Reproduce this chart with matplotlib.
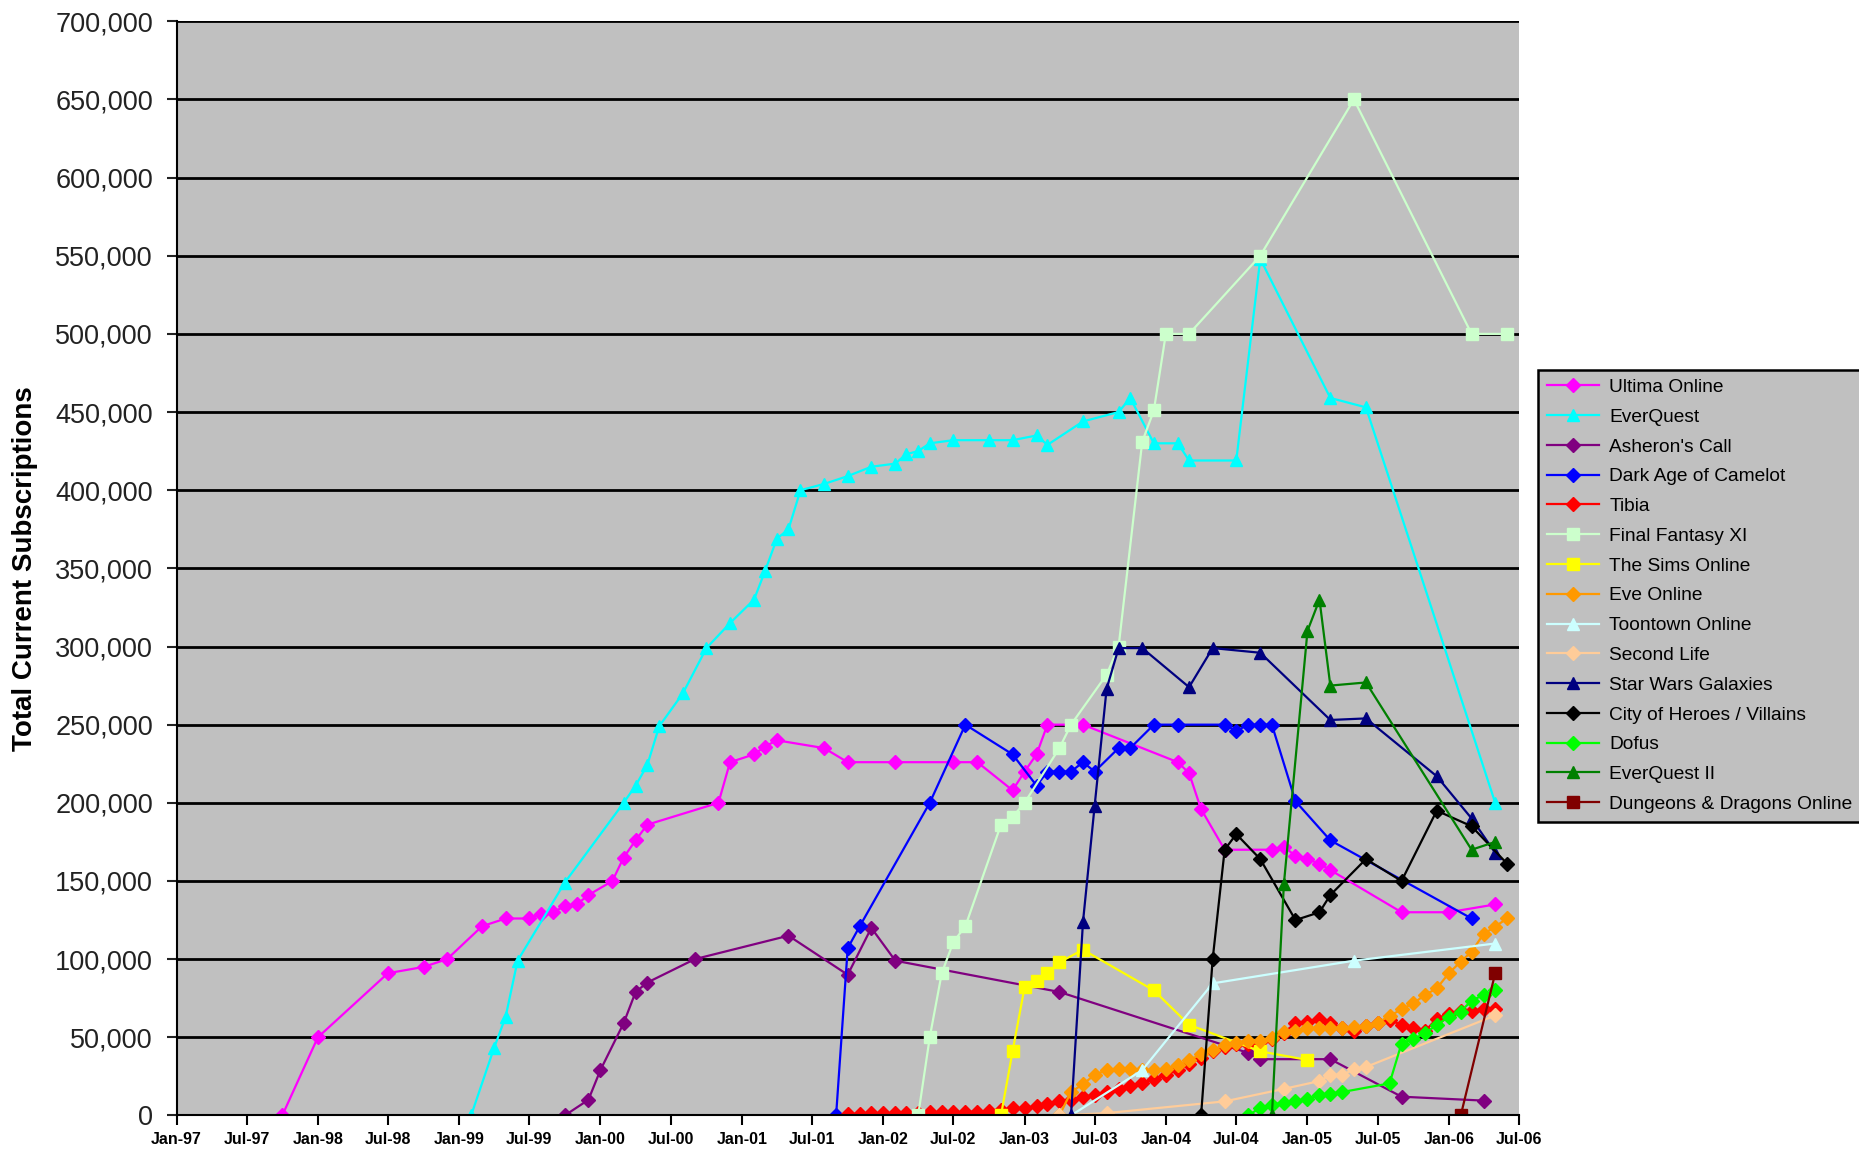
import matplotlib
matplotlib.use('Agg')
import matplotlib.pyplot as plt
import matplotlib.dates as mdates
from matplotlib.ticker import FuncFormatter
import pandas as pd

# ---------------------------------------------------------------
# Data: (month, subscriptions)
# ---------------------------------------------------------------
uo_dates = ['1997-10', '1998-01', '1998-07', '1998-10', '1998-12', '1999-03', '1999-05', '1999-07',
            '1999-08', '1999-09', '1999-10', '1999-11', '1999-12', '2000-02', '2000-03', '2000-04',
            '2000-05', '2000-11', '2000-12', '2001-02', '2001-03', '2001-04', '2001-08', '2001-10',
            '2002-02', '2002-07', '2002-09', '2002-12', '2003-01', '2003-02', '2003-03', '2003-06',
            '2004-02', '2004-03', '2004-04', '2004-06', '2004-10', '2004-11', '2004-12', '2005-01',
            '2005-02', '2005-03', '2005-09', '2006-01', '2006-05']
uo_values = [0, 50000, 91000, 95000, 100000, 121000, 126000, 126000,
             129000, 130000, 134000, 135000, 141000, 150000, 165000, 176000,
             186000, 200000, 226000, 231000, 236000, 240000, 235000, 226000,
             226000, 226000, 226000, 208000, 220000, 231000, 250000, 250000,
             226000, 219000, 196000, 170000, 170000, 172000, 166000, 164000,
             161000, 157000, 130000, 130000, 135000]

eq_dates = ['1999-02', '1999-04', '1999-05', '1999-06', '1999-10', '2000-03', '2000-04', '2000-05',
            '2000-06', '2000-08', '2000-10', '2000-12', '2001-02', '2001-03', '2001-04', '2001-05',
            '2001-06', '2001-08', '2001-10', '2001-12', '2002-02', '2002-03', '2002-04', '2002-05',
            '2002-07', '2002-10', '2002-12', '2003-02', '2003-03', '2003-06', '2003-09', '2003-10',
            '2003-12', '2004-02', '2004-03', '2004-07', '2004-09', '2005-03', '2005-06', '2006-05']
eq_values = [0, 43000, 63000, 99000, 149000, 200000, 211000, 224000,
             249000, 270000, 299000, 315000, 330000, 348000, 369000, 375000,
             400000, 404000, 409000, 415000, 417000, 423000, 425000, 430000,
             432000, 432000, 432000, 435000, 429000, 444000, 450000, 459000,
             430000, 430000, 419000, 419000, 548000, 459000, 453000, 200000]

ac_dates = ['1999-10', '1999-12', '2000-01', '2000-03', '2000-04', '2000-05', '2000-09', '2001-05',
            '2001-10', '2001-12', '2002-02', '2003-04', '2004-08', '2004-09', '2005-03', '2005-09',
            '2006-04']
ac_values = [0, 10000, 29000, 59000, 79000, 85000, 100000, 115000,
             90000, 120000, 99000, 79000, 40000, 36000, 36000, 12000,
             9500]

daoc_dates = ['2001-09', '2001-10', '2001-11', '2002-05', '2002-08', '2002-12', '2003-02', '2003-03',
              '2003-04', '2003-05', '2003-06', '2003-07', '2003-09', '2003-10', '2003-12', '2004-02',
              '2004-06', '2004-07', '2004-08', '2004-09', '2004-10', '2004-12', '2005-03', '2006-03']
daoc_values = [0, 107000, 121000, 200000, 250000, 231000, 211000, 220000,
               220000, 220000, 226000, 220000, 235000, 235000, 250000, 250000,
               250000, 246000, 250000, 250000, 250000, 201000, 176000, 126000]

# Tibia is monthly from Oct-01
tibia_start = '2001-10'
tibia_values = [1000, 1000, 1500, 1500, 1500, 1500, 1500, 2000, 2000, 2000, 2000, 2500,
                3000, 3500, 4500, 4500, 6000, 7500, 9000, 10000, 12000, 13000, 15000, 17000,
                19000, 21000, 23000, 26000, 29000, 33000, 37000, 41000, 44000, 46000, 46000, 47000,
                49000, 53000, 59000, 60000, 61500, 59000, 56000, 54000, 57000, 59000, 61000, 58000,
                56000, 54000, 62000, 65000, 67000, 67000, 68000, 68000]

ffxi_dates = ['2002-04', '2002-05', '2002-06', '2002-07', '2002-08', '2002-11', '2002-12', '2003-01',
              '2003-04', '2003-05', '2003-08', '2003-09', '2003-11', '2003-12', '2004-01', '2004-03',
              '2004-09', '2005-05', '2006-03', '2006-06']
ffxi_values = [0, 50000, 91000, 111000, 121000, 186000, 191000, 200000,
               235000, 250000, 282000, 300000, 431000, 451000, 500000, 500000,
               550000, 650000, 500000, 500000]

sims_dates = ['2002-11', '2002-12', '2003-01', '2003-02', '2003-03', '2003-04', '2003-06', '2003-12',
              '2004-03', '2004-09', '2005-01']
sims_values = [0, 41000, 82000, 86000, 91000, 98000, 106000, 80000,
               58000, 41000, 35500]

# Eve Online is monthly from Apr-03
eve_start = '2003-04'
eve_values = [0, 15000, 20000, 26000, 29000, 30000, 30000, 29000, 29000, 30000, 32000, 35500,
              39000, 42000, 45000, 46500, 47800, 47600, 49300, 53500, 54000, 55700, 55700, 55700,
              55700, 56800, 57200, 59300, 63600, 67900, 71700, 77100, 81300, 90900, 98400, 104800,
              116100, 120800, 126100]

toon_dates = ['2003-05', '2003-11', '2004-05', '2005-05', '2006-05']
toon_values = [0, 29000, 84500, 99000, 110000]

sl_dates = ['2003-04', '2003-08', '2004-06', '2004-11', '2005-02', '2005-03', '2005-04', '2005-05',
            '2005-06', '2006-05']
sl_values = [0, 1500, 9000, 17000, 22000, 26000, 26000, 29500,
             31000, 64000]

swg_dates = ['2003-05', '2003-06', '2003-07', '2003-08', '2003-09', '2003-11', '2004-03', '2004-05',
             '2004-09', '2005-03', '2005-06', '2005-12', '2006-03', '2006-05']
swg_values = [0, 124000, 198000, 273000, 299000, 299000, 274000, 299000,
              296000, 253000, 254000, 217000, 190000, 168000]

coh_dates = ['2004-04', '2004-05', '2004-06', '2004-07', '2004-09', '2004-12', '2005-02', '2005-03',
             '2005-06', '2005-09', '2005-12', '2006-03', '2006-06']
coh_values = [0, 100000, 170000, 180000, 164000, 125000, 130000, 141000,
              164000, 150000, 195000, 185000, 161000]

dofus_dates = ['2004-08', '2004-09', '2004-10', '2004-11', '2004-12', '2005-01', '2005-02', '2005-03',
               '2005-04', '2005-08', '2005-09', '2005-10', '2005-11', '2005-12', '2006-01', '2006-02',
               '2006-03', '2006-04', '2006-05']
dofus_values = [0, 5000, 7000, 8000, 9000, 10500, 13000, 14000,
                15000, 20500, 46000, 49000, 52500, 58000, 63000, 66500,
                73500, 77000, 80000]

eq2_dates = ['2004-10', '2004-11', '2005-01', '2005-02', '2005-03', '2005-06', '2006-03', '2006-05']
eq2_values = [0, 148000, 310000, 330000, 275000, 277000, 170000, 175000]

ddo_dates = ['2006-02', '2006-05']
ddo_values = [0, 91000]

names = ['Ultima Online', 'EverQuest', "Asheron's Call", 'Dark Age of Camelot', 'Tibia',
         'Final Fantasy XI', 'The Sims Online', 'Eve Online', 'Toontown Online', 'Second Life',
         'Star Wars Galaxies', 'City of Heroes / Villains', 'Dofus', 'EverQuest II',
         'Dungeons & Dragons Online']

tick_dates = pd.date_range('1997-01-01', '2006-07-01', freq='6MS')

# ---------------------------------------------------------------
# Build series (styles kept apart from the data)
# ---------------------------------------------------------------
def monthly(start, vals):
    return pd.date_range(start, periods=len(vals), freq='MS')

series = [
    (pd.to_datetime(uo_dates), uo_values),
    (pd.to_datetime(eq_dates), eq_values),
    (pd.to_datetime(ac_dates), ac_values),
    (pd.to_datetime(daoc_dates), daoc_values),
    (monthly(tibia_start, tibia_values), tibia_values),
    (pd.to_datetime(ffxi_dates), ffxi_values),
    (pd.to_datetime(sims_dates), sims_values),
    (monthly(eve_start, eve_values), eve_values),
    (pd.to_datetime(toon_dates), toon_values),
    (pd.to_datetime(sl_dates), sl_values),
    (pd.to_datetime(swg_dates), swg_values),
    (pd.to_datetime(coh_dates), coh_values),
    (pd.to_datetime(dofus_dates), dofus_values),
    (pd.to_datetime(eq2_dates), eq2_values),
    (pd.to_datetime(ddo_dates), ddo_values),
]

colors = ['#FF00FF', '#00FFFF', '#800080', '#0000FF', '#FF0000',
          '#CCFFCC', '#FFFF00', '#FF9900', '#CCFFFF', '#FFCC99',
          '#000080', '#000000', '#00FF00', '#008000', '#800000']
markers = ['D', '^', 'D', 'D', 'D',
           's', 's', 'D', '^', 'D',
           '^', 'D', 'D', '^', 's']

# ---------------------------------------------------------------
# Figure
# ---------------------------------------------------------------
plt.rcParams['font.family'] = ['Liberation Sans', 'DejaVu Sans']

fig = plt.figure(figsize=(18.59, 11.49), dpi=100)
fig.patch.set_facecolor('white')
ax = fig.add_axes([0.095, 0.0292, 0.722, 0.9523])
ax.set_facecolor('#C0C0C0')

for (d, v), name, c, mk in zip(series, names, colors, markers):
    ms = 9 if mk == '^' else (8.5 if mk == 's' else 7.5)
    ax.plot(d, v, color=c, lw=1.6, marker=mk, markersize=ms,
            markerfacecolor=c, markeredgecolor=c, label=name)

ax.set_ylim(0, 700000)
ax.set_yticks(range(0, 700001, 50000))
ax.yaxis.set_major_formatter(FuncFormatter(lambda v, p: '{:,.0f}'.format(v)))
ax.set_xlim(tick_dates[0], tick_dates[-1])
ax.set_xticks(tick_dates)
ax.xaxis.set_major_formatter(mdates.DateFormatter('%b-%y'))

ax.grid(axis='y', color='black', lw=2)
ax.set_axisbelow(True)
for s in ['top', 'right']:
    ax.spines[s].set_visible(False)
for s in ['left', 'bottom']:
    ax.spines[s].set_linewidth(1.5)

ax.tick_params(axis='y', labelsize=19.5, direction='out', length=7, width=1.5, pad=10, colors='#222222')
ax.tick_params(axis='x', labelsize=11.5, direction='out', length=7, width=1.5, pad=5)
for lab in ax.get_xticklabels():
    lab.set_fontweight('bold')

fig.text(0.0135, 0.505, 'Total Current Subscriptions', rotation=90, fontsize=20,
         fontweight='bold', ha='center', va='center')

leg = fig.legend(loc='upper left', bbox_to_anchor=(0.8275, 0.678), fontsize=13.8,
                 frameon=True, fancybox=False, borderpad=0.45, labelspacing=0.645,
                 handlelength=2.7, handletextpad=0.55, borderaxespad=0)
leg.get_frame().set_facecolor('#C0C0C0')
leg.get_frame().set_edgecolor('black')
leg.get_frame().set_linewidth(1.8)
leg.get_frame().set_alpha(1)

fig.savefig('out.png', dpi=100)
